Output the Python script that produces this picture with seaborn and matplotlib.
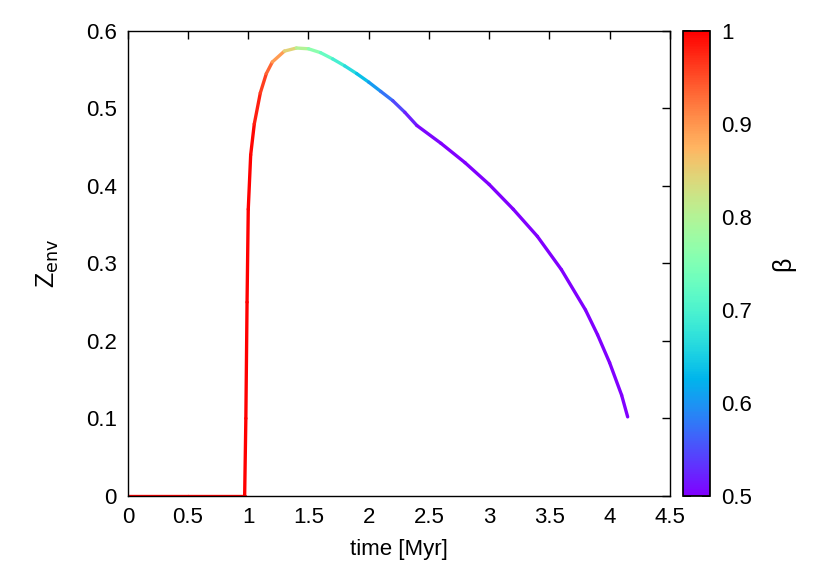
import numpy as np
import matplotlib
matplotlib.use("Agg")
import matplotlib.pyplot as plt
import seaborn as sns
from matplotlib.collections import LineCollection
from matplotlib.colors import Normalize

time_myr = [0.0, 0.5, 0.97, 0.98, 0.99, 1.0, 1.02, 1.05, 1.1, 1.15, 1.2, 1.3, 1.4, 1.5, 1.6, 1.7,
            1.8, 1.9, 2.0, 2.1, 2.2, 2.3, 2.4, 2.6, 2.8, 3.0, 3.2, 3.4, 3.6, 3.8, 3.9, 4.0, 4.1, 4.15]
z_env = [0.0, 0.0, 0.0, 0.10, 0.25, 0.37, 0.44, 0.48, 0.52, 0.545, 0.560, 0.574, 0.578, 0.577, 0.572, 0.564,
         0.555, 0.545, 0.534, 0.522, 0.510, 0.495, 0.478, 0.455, 0.430, 0.402, 0.370, 0.335, 0.292, 0.240, 0.208, 0.172, 0.130, 0.102]
beta = [1.0, 1.0, 1.0, 1.0, 1.0, 1.0, 1.0, 0.99, 0.97, 0.95, 0.92, 0.87, 0.82, 0.78, 0.74, 0.71,
        0.68, 0.65, 0.62, 0.59, 0.56, 0.53, 0.51, 0.5, 0.5, 0.5, 0.5, 0.5, 0.5, 0.5, 0.5, 0.5, 0.5, 0.5]

sns.set_theme(style="white", font="Liberation Sans")
plt.rcParams.update({"xtick.direction": "in", "ytick.direction": "in",
                     "xtick.top": True, "ytick.right": True, "font.size": 16,
                     "text.color": "black", "axes.labelcolor": "black",
                     "xtick.color": "black", "ytick.color": "black"})

fig = plt.figure(figsize=(8.3, 5.8), dpi=100)
ax = fig.add_axes([0.154, 0.145, 0.653, 0.8016])
cax = fig.add_axes([0.823, 0.145, 0.032, 0.8016])

cmap = plt.get_cmap("rainbow")
norm = Normalize(0.5, 1.0)
pts = np.column_stack([time_myr, z_env]).reshape(-1, 1, 2)
segs = np.concatenate([pts[:-1], pts[1:]], axis=1)
bmid = (np.array(beta[:-1]) + np.array(beta[1:])) / 2
lc = LineCollection(segs, cmap=cmap, norm=norm, linewidths=2.4, capstyle="round", joinstyle="round")
lc.set_array(bmid)
ax.add_collection(lc)

ax.set_xlim(0, 4.5)
ax.set_ylim(0, 0.6)
ax.set_xticks(np.arange(0, 4.51, 0.5))
ax.set_xticklabels(["0", "0.5", "1", "1.5", "2", "2.5", "3", "3.5", "4", "4.5"])
ax.set_yticks(np.arange(0, 0.61, 0.1))
ax.set_yticklabels(["0", "0.1", "0.2", "0.3", "0.4", "0.5", "0.6"])
ax.tick_params(labelsize=16, length=6, width=1, color="black", pad=8)
for s in ax.spines.values():
    s.set_color("black"); s.set_linewidth(1)
ax.set_xlabel("time [Myr]", fontsize=16, labelpad=8)
ax.set_ylabel(r"Z$_{\rm env}$", fontsize=18, labelpad=18)

cb = fig.colorbar(plt.cm.ScalarMappable(norm=norm, cmap=cmap), cax=cax)
cb.set_ticks([0.5, 0.6, 0.7, 0.8, 0.9, 1.0])
cb.set_ticklabels(["0.5", "0.6", "0.7", "0.8", "0.9", "1"])
cb.ax.tick_params(labelsize=16, direction="in", length=6, color="black", pad=8, left=True)
cb.outline.set_edgecolor("black")
cb.set_label("β", fontsize=18, labelpad=14)

fig.savefig("out.png", dpi=100)
